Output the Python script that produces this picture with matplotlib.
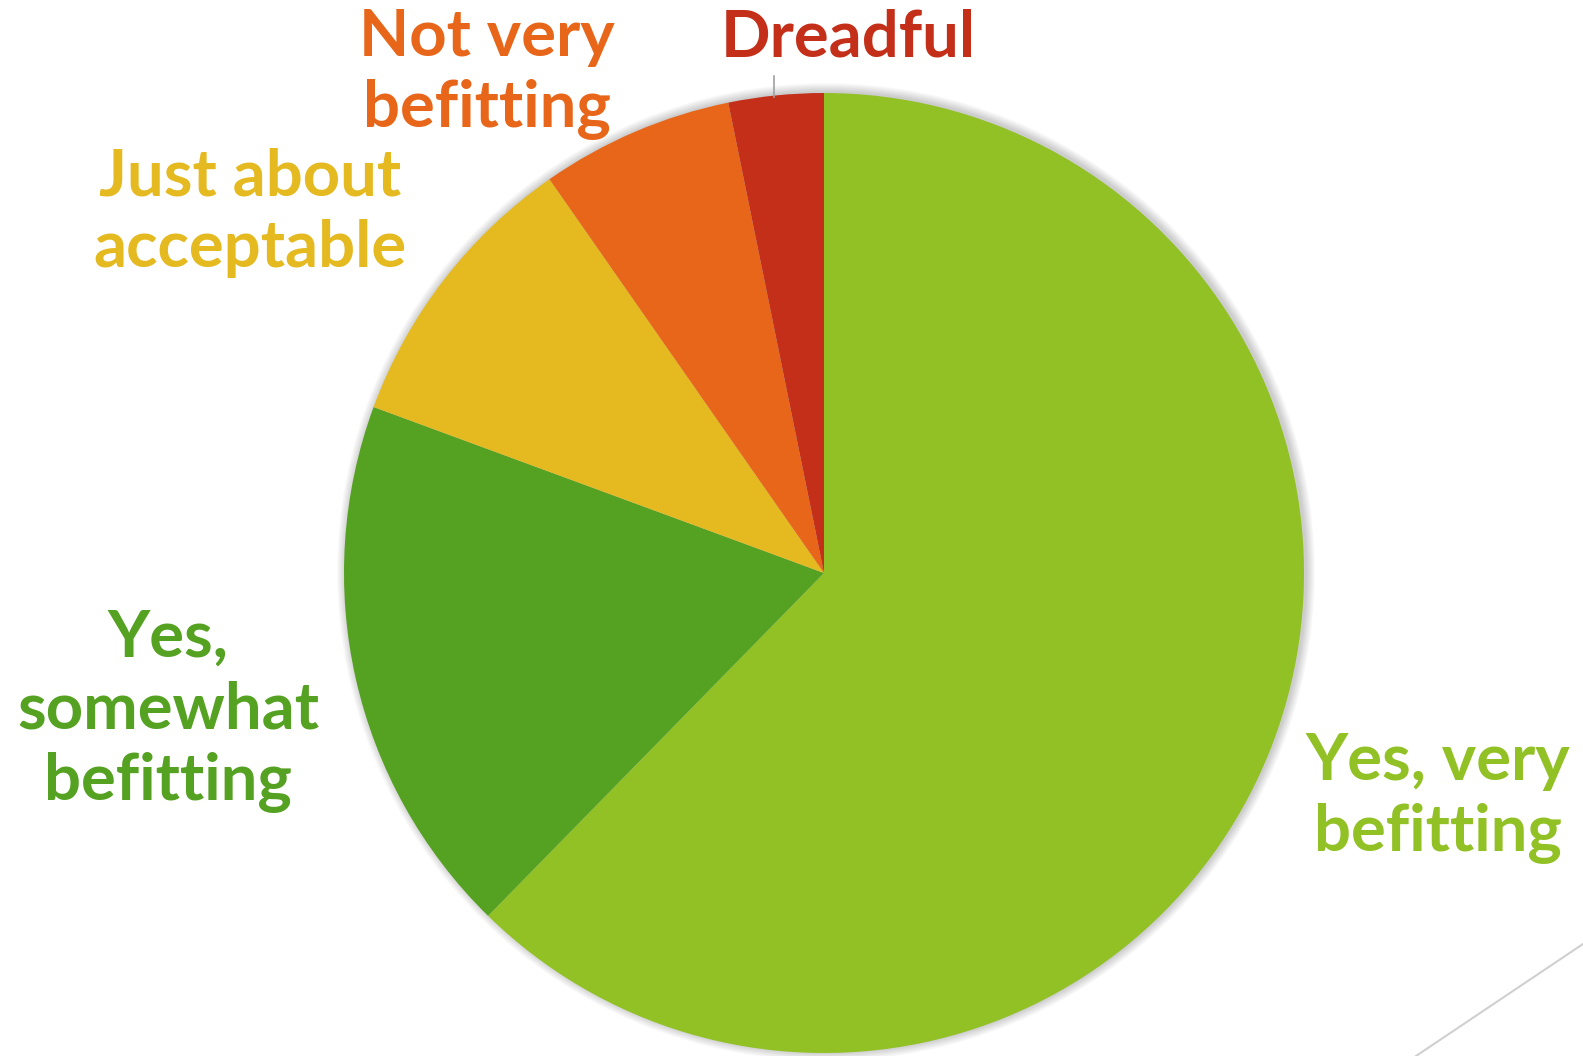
import matplotlib
matplotlib.use("Agg")
import matplotlib.pyplot as plt
from matplotlib.patches import Circle

categories = ["Yes, very\nbefitting", "Yes,\nsomewhat\nbefitting", "Just about\nacceptable",
              "Not very\nbefitting", "Dreadful"]
values = [62.4, 18.3, 9.7, 6.5, 3.2]
colors = ["#92C125", "#55A122", "#E5B920", "#E8661A", "#C42F1A"]

W, H = 1583, 1056
fig = plt.figure(figsize=(W / 100, H / 100), dpi=100)
ax = fig.add_axes([0, 0, 1, 1])

cx, cy, r = 824, H - 573, 480

# soft shadow around pie
for i in range(10, 0, -1):
    ax.add_patch(Circle((cx + 2, cy + 1), r + i * 0.9, color="#000000",
                        alpha=0.018, lw=0, zorder=0))

ax.pie(values, colors=colors, startangle=90, counterclock=False,
       center=(cx, cy), radius=r, wedgeprops=dict(linewidth=0),
       frame=True)

label_pos = [(1438, 798), (168, 711), (250, 213), (487, 74), (848, 38)]
for lab, col, (x, y) in zip(categories, colors, label_pos):
    ax.text(x, H - y, lab, color=col, fontsize=47, fontfamily="Lato",
            fontweight="bold", ha="center", va="center", linespacing=1.27,
            zorder=5)

# leader line for Dreadful
ax.plot([774, 774], [H - 76, H - 97], color="#A0A0A0", lw=1.2, zorder=4)
# decorative line bottom-right
ax.plot([1416, 1583], [H - 1056, H - 944], color="#D0D0D0", lw=1.5, zorder=4)

ax.set_xlim(0, W)
ax.set_ylim(0, H)
ax.set_aspect("equal")
ax.axis("off")
fig.savefig("out.png", dpi=100)
